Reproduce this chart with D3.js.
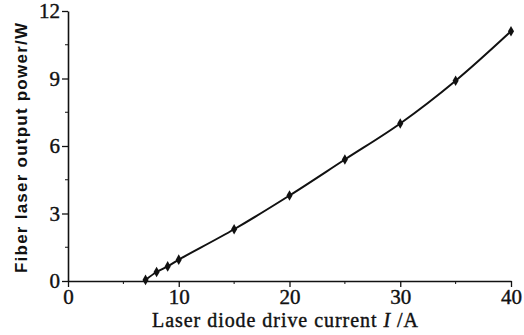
<!DOCTYPE html>
<html>
<head>
<meta charset="utf-8">
<script src="https://cdn.jsdelivr.net/npm/d3@7"></script>
<style>
  body { margin: 0; background: #fff; }
  svg { display: block; }
</style>
</head>
<body>
<svg id="chart"></svg>
<script>
// data
const current = [7, 8, 9, 10, 15, 20, 25, 30, 35, 40];
const power = [0.05, 0.4, 0.65, 0.95, 2.3, 3.8, 5.4, 7.0, 8.9, 11.1];
const xTicks = [0, 10, 20, 30, 40];
const yTicks = [0, 3, 6, 9, 12];
const xMinor = [5, 15, 25, 35];
const yMinor = [1.5, 4.5, 7.5, 10.5];

const W = 524, H = 335;
const margin = { top: 11, right: 13, bottom: 54, left: 68 };
const width = W - margin.left - margin.right;
const height = H - margin.top - margin.bottom;
const serif = "'Times New Roman', 'Liberation Serif', Times, serif";

const svg = d3.select("#chart")
    .attr("width", W)
    .attr("height", H)
    .append("g")
    .attr("transform", `translate(${margin.left},${margin.top})`);

const x = d3.scaleLinear().domain([0, 40]).range([0, width]);
const y = d3.scaleLinear().domain([0, 12]).range([height, 0]);

const data = current.map((c, i) => ({ c, p: power[i] }));

// axes
const xAxis = svg.append("g")
    .attr("transform", `translate(0,${height})`)
    .call(d3.axisBottom(x).tickValues(xTicks).tickSize(6).tickSizeOuter(0).tickPadding(2));
xAxis.append("g").selectAll("line")
    .data(xMinor)
    .join("line")
    .attr("x1", d => x(d)).attr("x2", d => x(d))
    .attr("y1", 0).attr("y2", 3)
    .attr("stroke", "#111");

const yAxis = svg.append("g")
    .call(d3.axisLeft(y).tickValues(yTicks).tickSize(6).tickSizeOuter(0).tickPadding(2));
yAxis.append("g").selectAll("line")
    .data(yMinor)
    .join("line")
    .attr("y1", d => y(d)).attr("y2", d => y(d))
    .attr("x1", 0).attr("x2", -3)
    .attr("stroke", "#111");

svg.selectAll(".domain").attr("stroke", "#111").attr("stroke-width", 1.6);
svg.selectAll(".tick line").attr("stroke", "#111").attr("stroke-width", 1.3);
svg.selectAll(".tick text")
    .style("font-family", serif)
    .style("font-size", "21px")
    .attr("fill", "#111")
    .attr("stroke", "#111")
    .attr("stroke-width", 0.4);

// curve
const line = d3.line()
    .x(d => x(d.c))
    .y(d => y(d.p))
    .curve(d3.curveCatmullRom);

svg.append("path")
    .datum(data)
    .attr("d", line)
    .attr("fill", "none")
    .attr("stroke", "#111")
    .attr("stroke-width", 2);

// diamond markers
svg.selectAll(".pt")
    .data(data)
    .join("path")
    .attr("class", "pt")
    .attr("transform", d => `translate(${x(d.c)},${y(d.p)})`)
    .attr("d", d3.symbol(d3.symbolDiamond, 32))
    .attr("fill", "#111");

// axis titles
svg.append("text")
    .attr("x", 152 - margin.left)
    .attr("y", 327 - margin.top)
    .attr("textLength", 266)
    .attr("lengthAdjust", "spacing")
    .style("font-family", serif)
    .style("font-size", "20px")
    .attr("fill", "#111")
    .attr("stroke", "#111")
    .attr("stroke-width", 0.4)
    .html('Laser diode drive current <tspan font-style="italic">I</tspan> /A');

svg.append("text")
    .attr("transform", `translate(${27 - margin.left},${273 - margin.top}) rotate(-90)`)
    .attr("textLength", 250)
    .attr("lengthAdjust", "spacing")
    .style("font-family", "'Liberation Sans', Arial, sans-serif")
    .style("font-size", "17px")
    .style("font-weight", "bold")
    .attr("fill", "#111")
    .text("Fiber laser output power/W");
</script>
</body>
</html>
